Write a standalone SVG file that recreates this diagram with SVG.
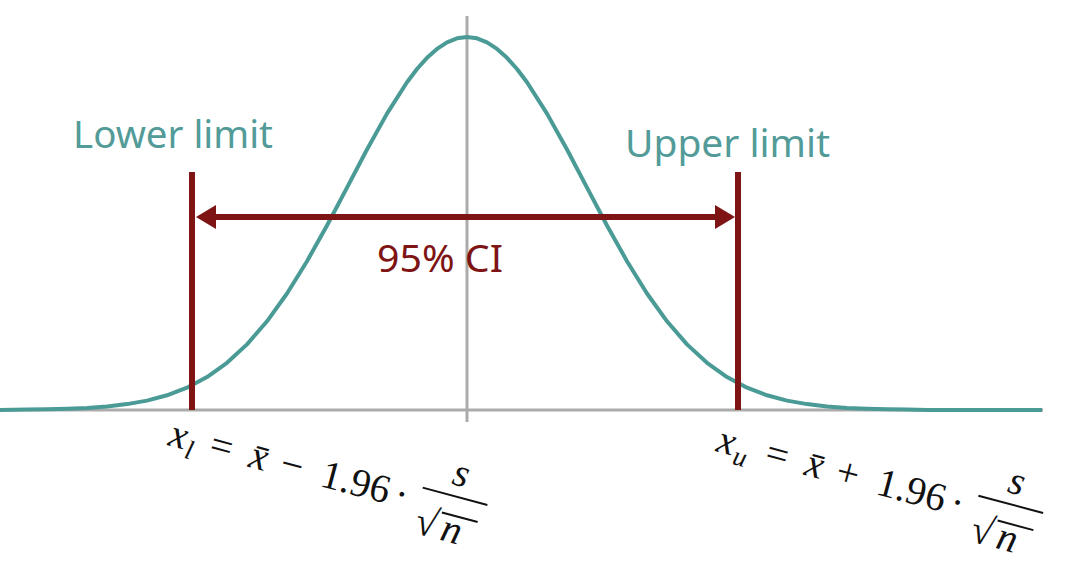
<svg xmlns="http://www.w3.org/2000/svg" width="1078" height="584" viewBox="0 0 1078 584">
<style>
.axis{stroke:#ababab;stroke-width:3;fill:none}
.curve{stroke:#4a9a96;stroke-width:4;fill:none;stroke-linejoin:round}
.limit{stroke:#7e1414;stroke-width:6;fill:none}
.lab{font-family:"Noto Sans","Open Sans",sans-serif;font-size:38px;fill:#529b98}
.ci{font-family:"Noto Sans","Open Sans",sans-serif;font-size:38px;fill:#7e1414}
.m{font-family:"Liberation Serif","DejaVu Serif",serif;font-size:40px;fill:#111}
.mi{font-style:italic}
.sub{font-family:"Liberation Serif","DejaVu Serif",serif;font-size:27px;font-style:italic;fill:#111}
.bar{stroke:#111;stroke-width:2;fill:none}
</style>
<defs>
<marker id="ah" viewBox="0 0 20 24" refX="6" refY="12" markerWidth="20" markerHeight="24" markerUnits="userSpaceOnUse" orient="auto-start-reverse">
<path d="M0,0 L20,12 L0,24 z" fill="#7e1414"/>
</marker>
</defs>
<rect width="1078" height="584" fill="#fff"/>
<g id="axes">
<line class="axis" x1="0" y1="410" x2="1043" y2="410"/>
<line class="axis" x1="467" y1="16" x2="467" y2="422"/>
</g>
<g id="curve">
<path class="curve" d="M0,410 L27,409.6 L47,409.3 L67,408.8 L87,407.9 L107,406.4 L127,404.1 L147,400.6 L167,395.3 L187,387.7 L207,377.1 L227,362.8 L247,344.4 L267,321.3 L287,293.5 L307,261.2 L327,225.5 L347,187.6 L367,149.5 L387,113.6 L407,82.2 L417,69 L427,57.8 L437,48.9 L447,42.3 L457,38.3 L467,37 L477,38.3 L487,42.3 L497,48.9 L507,57.8 L517,69 L527,82.2 L547,113.6 L567,149.5 L587,187.6 L607,225.5 L627,261.2 L647,293.5 L667,321.3 L687,344.4 L707,362.8 L727,377.1 L747,387.7 L767,395.3 L787,400.6 L807,404.1 L827,406.4 L847,407.9 L867,408.8 L887,409.3 L907,409.6 L927,410 L1042,410"/>
</g>
<g id="lower-limit">
<line class="limit" x1="192" y1="172" x2="192" y2="410"/>
<text class="lab" x="73" y="148" textLength="200" lengthAdjust="spacingAndGlyphs">Lower limit</text>
</g>
<g id="upper-limit">
<line class="limit" x1="738" y1="172" x2="738" y2="410"/>
<text class="lab" x="625" y="157" textLength="205" lengthAdjust="spacingAndGlyphs">Upper limit</text>
</g>
<g id="connectors">
<line class="limit" x1="210" y1="217" x2="721" y2="217" marker-start="url(#ah)" marker-end="url(#ah)"/>
</g>
<g id="ci-label">
<text class="ci" x="377" y="272" textLength="126" lengthAdjust="spacingAndGlyphs">95% CI</text>
</g>
<g id="formula-lower" transform="translate(167,445) rotate(15)">
<text class="m mi" x="0" y="0">x</text>
<text class="sub" x="19" y="8">l</text>
<text class="m" x="42" y="0">=</text>
<text class="m mi" x="83" y="0">x̄</text>
<text class="m" x="115" y="0">−</text>
<text class="m" x="157" y="0">1.96</text>
<text class="m" x="233" y="0">·</text>
<line class="bar" x1="258" y1="-25" x2="325" y2="-25"/>
<text class="m mi" x="284" y="-36">s</text>
<text class="m" x="260" y="21">√</text>
<line class="bar" x1="283" y1="-6" x2="320" y2="-6"/>
<text class="m mi" x="287" y="21">n</text>
</g>
<g id="formula-upper" transform="translate(715,451) rotate(15)">
<text class="m mi" x="0" y="0">x</text>
<text class="sub" x="19" y="8">u</text>
<text class="m" x="50" y="0">=</text>
<text class="m mi" x="91" y="0">x̄</text>
<text class="m" x="123" y="0">+</text>
<text class="m" x="165" y="0">1.96</text>
<text class="m" x="241" y="0">·</text>
<line class="bar" x1="266" y1="-25" x2="333" y2="-25"/>
<text class="m mi" x="292" y="-36">s</text>
<text class="m" x="268" y="21">√</text>
<line class="bar" x1="291" y1="-6" x2="328" y2="-6"/>
<text class="m mi" x="295" y="21">n</text>
</g>
</svg>
